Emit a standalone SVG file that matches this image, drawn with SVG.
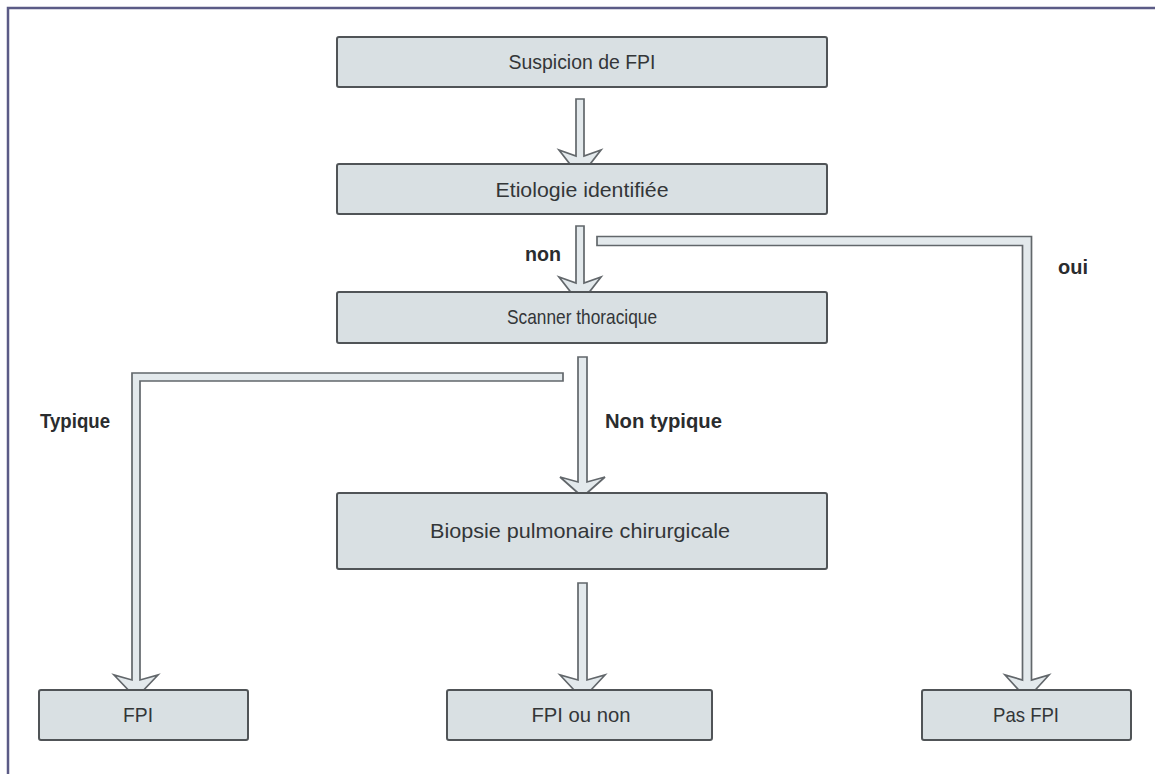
<svg xmlns="http://www.w3.org/2000/svg" width="1155" height="774" viewBox="0 0 1155 774">
  <defs>
    <style>
      .box { fill: #d9e0e3; stroke: #505457; stroke-width: 2; }
      .arrow { fill: #e3e9ec; stroke: #62676b; stroke-width: 1.7; stroke-linejoin: miter; }
      .txt { font-family: "Liberation Sans Narrow", "Liberation Sans", Arial, sans-serif; font-size: 21px; fill: #333638; text-anchor: middle; }
      .lbl { font-family: "Liberation Sans Narrow", "Liberation Sans", Arial, sans-serif; font-size: 21px; font-weight: bold; fill: #2a2c2e; }
      .frame { fill: none; stroke: #5b5b86; stroke-width: 2.5; }
    </style>
  </defs>

  <rect width="1155" height="774" fill="#ffffff"/>
  <!-- page frame: top and left rules -->
  <path class="frame" d="M8,774 L8,8 L1155,8"/>

  <!-- connectors -->
  <g id="connectors">
    <!-- Suspicion -> Etiologie -->
    <polygon class="arrow" points="576,99 584,99 584,156 601,150 580,177 559,150 576,156"/>
    <!-- Etiologie -> Scanner (non) -->
    <polygon class="arrow" points="576,226 584,226 584,283 601,277 580,304 559,277 576,283"/>
    <!-- Etiologie -> Pas FPI (oui) -->
    <polygon class="arrow" points="597,236.5 1031.5,236.5 1031.5,680 1049,675 1027,699 1005,675 1022.5,680 1022.5,245.5 597,245.5"/>
    <!-- Scanner -> FPI (Typique) -->
    <polygon class="arrow" points="563,373 132,373 132,680 114,675 136,698 158,675 140,680 140,381 563,381"/>
    <!-- Scanner -> Biopsie (Non typique) -->
    <polygon class="arrow" points="578,357 587,357 587,482 605,477 582.5,497 560,477 578,482"/>
    <!-- Biopsie -> FPI ou non -->
    <polygon class="arrow" points="578,583 587,583 587,680 605,675 582.5,699 560,675 578,680"/>
  </g>

  <g id="n-suspicion">
    <rect class="box" x="337" y="37" width="490" height="50" rx="2"/>
    <text class="txt" x="582" y="69" textLength="147" lengthAdjust="spacingAndGlyphs">Suspicion de FPI</text>
  </g>
  <g id="n-etiologie">
    <rect class="box" x="337" y="164" width="490" height="50" rx="2"/>
    <text class="txt" x="582" y="197" textLength="173" lengthAdjust="spacingAndGlyphs">Etiologie identifiée</text>
  </g>
  <g id="n-scanner">
    <rect class="box" x="337" y="292" width="490" height="51" rx="2"/>
    <text class="txt" x="582" y="324" textLength="150" lengthAdjust="spacingAndGlyphs">Scanner thoracique</text>
  </g>
  <g id="n-biopsie">
    <rect class="box" x="337" y="493" width="490" height="76" rx="2"/>
    <text class="txt" x="580" y="538" textLength="300" lengthAdjust="spacingAndGlyphs">Biopsie pulmonaire chirurgicale</text>
  </g>
  <g id="n-fpi">
    <rect class="box" x="39" y="690" width="209" height="50" rx="2"/>
    <text class="txt" x="138" y="722" textLength="30" lengthAdjust="spacingAndGlyphs">FPI</text>
  </g>
  <g id="n-fpi-ou-non">
    <rect class="box" x="447" y="690" width="265" height="50" rx="2"/>
    <text class="txt" x="581" y="722" textLength="99" lengthAdjust="spacingAndGlyphs">FPI ou non</text>
  </g>
  <g id="n-pas-fpi">
    <rect class="box" x="922" y="690" width="209" height="50" rx="2"/>
    <text class="txt" x="1026" y="722" textLength="66" lengthAdjust="spacingAndGlyphs">Pas FPI</text>
  </g>

  <g id="labels">
    <text class="lbl" x="525" y="261" textLength="36" lengthAdjust="spacingAndGlyphs">non</text>
    <text class="lbl" x="1058" y="274" textLength="30" lengthAdjust="spacingAndGlyphs">oui</text>
    <text class="lbl" x="40" y="428" textLength="70" lengthAdjust="spacingAndGlyphs">Typique</text>
    <text class="lbl" x="605" y="428" textLength="117" lengthAdjust="spacingAndGlyphs">Non typique</text>
  </g>
</svg>
